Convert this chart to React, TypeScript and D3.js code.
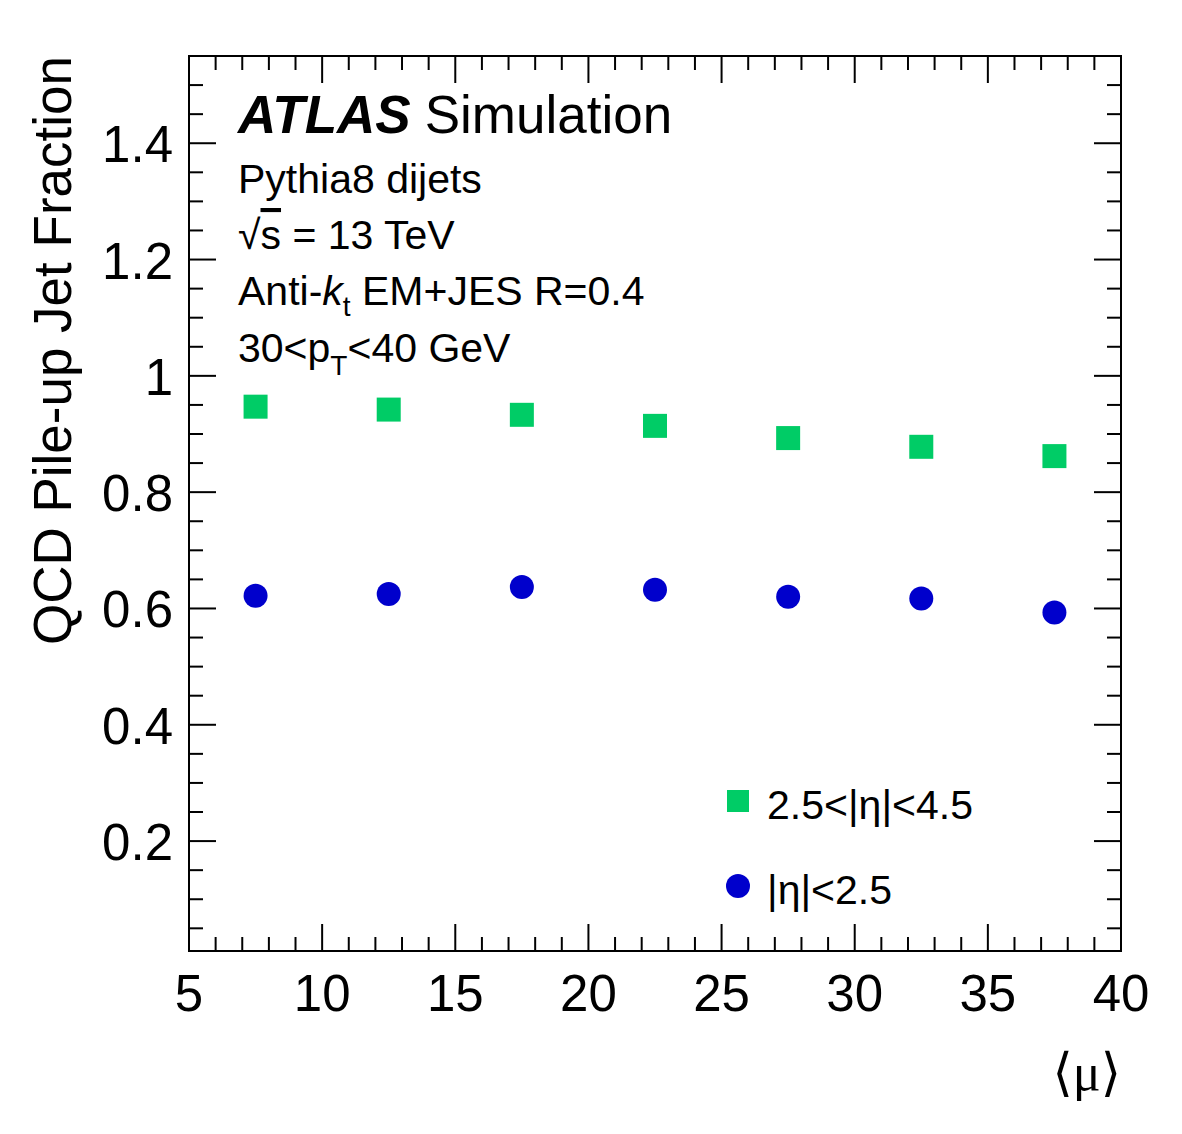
import React, { useEffect, useRef } from 'react';
import * as d3 from 'd3';

const muBins = [7.5, 12.5, 17.5, 22.5, 27.5, 32.5, 37.5];
const forwardFrac = [0.947, 0.942, 0.933, 0.914, 0.893, 0.878, 0.862];
const centralFrac = [0.622, 0.625, 0.637, 0.632, 0.620, 0.617, 0.593];
const xTicks = [5, 10, 15, 20, 25, 30, 35, 40];
const yTicks = [0.2, 0.4, 0.6, 0.8, 1, 1.2, 1.4];

const width = 1182;
const height = 1134;
const font = '"Liberation Sans", Arial, Helvetica, sans-serif';

const App = () => {
	const ref = useRef(null);

	useEffect(() => {
		const svg = d3.select(ref.current);
		svg.selectAll('*').remove();

		const m = { l: 189, r: 1121, t: 56, b: 951 };
		const x = d3.scaleLinear().domain([5, 40]).range([m.l, m.r]);
		const y = d3.scaleLinear().domain([0.011, 1.55]).range([m.b, m.t]);

		const green = '#00cc66';
		const blue = '#0000cc';

		// ticks: major on x every 5, minor every 1; y major 0.2, minor 0.05
		const g = svg.append('g').attr('stroke', '#000').attr('stroke-width', 2);
		d3.range(5, 40.01, 1).forEach(v => {
			const len = v % 5 === 0 ? 27 : 14;
			g.append('line').attr('x1', x(v)).attr('x2', x(v)).attr('y1', m.b).attr('y2', m.b - len);
			g.append('line').attr('x1', x(v)).attr('x2', x(v)).attr('y1', m.t).attr('y2', m.t + len);
		});
		d3.range(0.05, 1.551, 0.05).forEach(v => {
			const major = Math.abs(Math.round(v * 5) - v * 5) < 1e-6;
			const len = major ? 27 : 14;
			g.append('line').attr('x1', m.l).attr('x2', m.l + len).attr('y1', y(v)).attr('y2', y(v));
			g.append('line').attr('x1', m.r).attr('x2', m.r - len).attr('y1', y(v)).attr('y2', y(v));
		});

		svg.append('rect')
			.attr('x', m.l).attr('y', m.t)
			.attr('width', m.r - m.l).attr('height', m.b - m.t)
			.attr('fill', 'none').attr('stroke', '#000').attr('stroke-width', 2);

		svg.selectAll('.xlab').data(xTicks).join('text')
			.attr('class', 'xlab')
			.attr('x', d => x(d)).attr('y', 1011)
			.attr('text-anchor', 'middle')
			.style('font-family', font).style('font-size', '51px')
			.text(d => d);

		svg.selectAll('.ylab').data(yTicks).join('text')
			.attr('class', 'ylab')
			.attr('x', 173).attr('y', d => y(d) + 19)
			.attr('text-anchor', 'end')
			.style('font-family', font).style('font-size', '51px')
			.text(d => d3.format('~g')(d));

		svg.append('text')
			.attr('transform', `translate(71, ${m.t}) rotate(-90)`)
			.attr('text-anchor', 'end')
			.style('font-family', font).style('font-size', '53px')
			.text('QCD Pile-up Jet Fraction');

		svg.append('text')
			.attr('x', m.r).attr('y', 1090)
			.attr('text-anchor', 'end')
			.style('font-family', '"Liberation Serif", "DejaVu Serif", serif').style('font-size', '52px')
			.text('\u27E8\u03BC\u27E9');

		// markers
		svg.selectAll('.sq').data(muBins).join('rect')
			.attr('class', 'sq')
			.attr('x', (d) => x(d) - 12)
			.attr('y', (d, i) => y(forwardFrac[i]) - 12)
			.attr('width', 24).attr('height', 24)
			.attr('fill', green);

		svg.selectAll('.dot').data(muBins).join('circle')
			.attr('class', 'dot')
			.attr('cx', d => x(d))
			.attr('cy', (d, i) => y(centralFrac[i]))
			.attr('r', 12)
			.attr('fill', blue);

		// labels
		const t1 = svg.append('text').attr('x', 238).attr('y', 133)
			.style('font-family', font).style('font-size', '53px');
		t1.append('tspan').style('font-weight', 'bold').style('font-style', 'italic').text('ATLAS');
		t1.append('tspan').attr('dx', 14).text('Simulation');

		const info = (yy) => svg.append('text').attr('x', 238).attr('y', yy)
			.style('font-family', font).style('font-size', '41px');
		info(193).text('Pythia8 dijets');
		const s = info(249);
		s.append('tspan').style('font-weight', '100').text('\u221A');
		s.append('tspan').style('text-decoration', 'overline').text('s');
		s.append('tspan').text(' = 13 TeV');
		const ak = info(305);
		ak.append('tspan').text('Anti-');
		ak.append('tspan').style('font-style', 'italic').text('k');
		ak.append('tspan').attr('dy', 11).style('font-size', '28px').text('t');
		ak.append('tspan').attr('dy', -11).text(' EM+JES R=0.4');
		const pt = info(362);
		pt.append('tspan').text('30<p');
		pt.append('tspan').attr('dy', 13).style('font-size', '28px').text('T');
		pt.append('tspan').attr('dy', -13).text('<40 GeV');

		// legend
		svg.append('rect').attr('x', 727).attr('y', 790).attr('width', 22).attr('height', 22).attr('fill', green);
		svg.append('text').attr('x', 767).attr('y', 819)
			.style('font-family', font).style('font-size', '41px').text('2.5<|\u03B7|<4.5');
		svg.append('circle').attr('cx', 738).attr('cy', 886).attr('r', 12).attr('fill', blue);
		svg.append('text').attr('x', 767).attr('y', 904)
			.style('font-family', font).style('font-size', '41px').text('|\u03B7|<2.5');
	}, []);

	return <svg ref={ref} width={width} height={height} style={{ position: 'absolute', left: 0, top: 0, background: '#fff' }} />;
};

export default App;
